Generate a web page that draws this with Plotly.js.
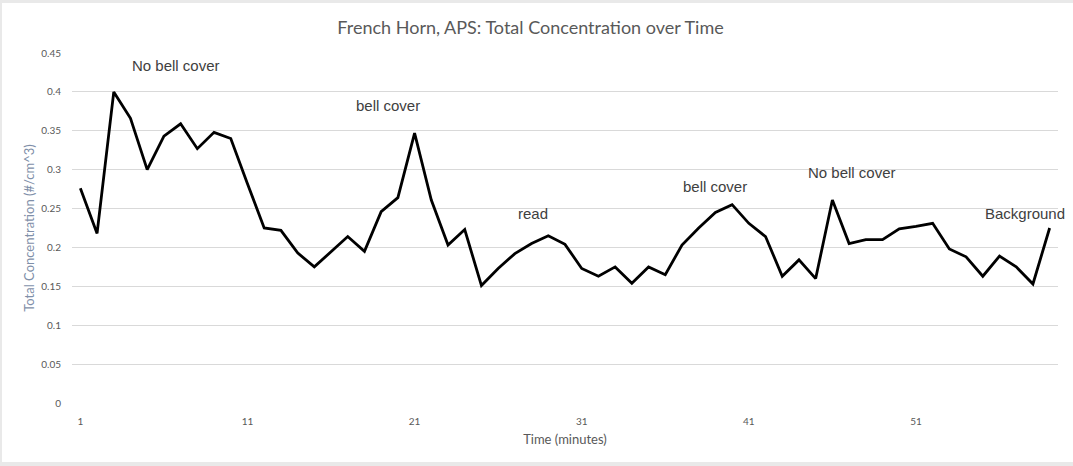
<!DOCTYPE html>
<html>
<head>
<meta charset="utf-8">
<script src="https://cdn.plot.ly/plotly-3.0.1.min.js"></script>
<style>
  html, body { margin: 0; padding: 0; background: #e9e9e9; width: 1073px; height: 466px; overflow: hidden; }
  #chart { position: absolute; left: 2px; top: 3px; width: 1071px; height: 459px; background: #ffffff; }
</style>
</head>
<body>
<div id="chart"></div>
<script>
// Time in minutes (categories 1..59)
const minutes = [1,2,3,4,5,6,7,8,9,10,11,12,13,14,15,16,17,18,19,20,
                 21,22,23,24,25,26,27,28,29,30,31,32,33,34,35,36,37,38,39,40,
                 41,42,43,44,45,46,47,48,49,50,51,52,53,54,55,56,57,58,59];
// Total concentration (#/cm^3)
const concentration = [0.276,0.218,0.400,0.366,0.300,0.343,0.359,0.327,0.348,0.340,
                       0.282,0.225,0.222,0.193,0.175,0.195,0.214,0.195,0.246,0.264,
                       0.347,0.261,0.203,0.223,0.151,0.173,0.192,0.205,0.215,0.204,
                       0.173,0.163,0.175,0.154,0.175,0.165,0.203,0.225,0.245,0.255,
                       0.231,0.214,0.163,0.184,0.160,0.261,0.205,0.210,0.210,0.224,
                       0.227,0.231,0.198,0.188,0.163,0.189,0.175,0.153,0.225];
const xTickVals = [1, 11, 21, 31, 41, 51];
const xTickText = ["1", "11", "21", "31", "41", "51"];
const yTickVals = [0, 0.05, 0.1, 0.15, 0.2, 0.25, 0.3, 0.35, 0.4, 0.45];
const yTickText = ["0", "0.05", "0.1", "0.15", "0.2", "0.25", "0.3", "0.35", "0.4", "0.45"];
const noteTexts = ["No bell cover", "bell cover", "read", "bell cover", "No bell cover", "Background"];

const tickFont = { family: "Lato, 'Open Sans', sans-serif", size: 10, color: "#595959" };
const noteFont = { family: "'Liberation Sans', Arial, sans-serif", size: 15, color: "#404040" };

const notePos = [
  { x: 6.74, y: 0.434 },
  { x: 19.42, y: 0.382 },
  { x: 28.1, y: 0.244 },
  { x: 38.95, y: 0.278 },
  { x: 47.2, y: 0.297 },
  { x: 57.5, y: 0.244 }
];

const trace = {
  x: minutes,
  y: concentration,
  type: "scatter",
  mode: "lines",
  line: { color: "#000000", width: 2.8 },
  hoverinfo: "x+y"
};

const layout = {
  width: 1071,
  height: 459,
  paper_bgcolor: "#ffffff",
  plot_bgcolor: "#ffffff",
  margin: { l: 70, r: 15, t: 50, b: 59 },
  showlegend: false,
  title: {
    text: "French Horn, APS: Total Concentration over Time",
    font: { family: "Lato, 'Open Sans', sans-serif", size: 18, color: "#595959" },
    x: 0.4935, xref: "container", xanchor: "center",
    y: 0.946, yref: "container", yanchor: "middle"
  },
  xaxis: {
    range: [0.5, 59.5],
    tickmode: "array",
    tickvals: xTickVals,
    ticktext: xTickText,
    showgrid: false,
    zeroline: false,
    showline: false,
    ticks: "outside",
    ticklen: 9,
    tickcolor: "rgba(0,0,0,0)",
    tickfont: tickFont,
    title: { text: "Time (minutes)", font: { family: "Lato, 'Open Sans', sans-serif", size: 13, color: "#595959" }, standoff: 8 },
    fixedrange: true
  },
  yaxis: {
    range: [0, 0.45],
    tickmode: "array",
    tickvals: yTickVals,
    ticktext: yTickText,
    showgrid: true,
    gridcolor: "#d9d9d9",
    gridwidth: 1,
    zeroline: false,
    showline: false,
    ticks: "outside",
    ticklen: 8,
    tickcolor: "rgba(0,0,0,0)",
    tickfont: tickFont,
    title: { text: "Total Concentration (#/cm^3)", font: { family: "Lato, 'Open Sans', sans-serif", size: 13, color: "#7f8fa9" }, standoff: 3 },
    fixedrange: true
  },
  annotations: noteTexts.map((t, i) => ({
    text: t,
    x: notePos[i].x,
    y: notePos[i].y,
    xref: "x",
    yref: "y",
    showarrow: false,
    xanchor: "center",
    yanchor: "middle",
    font: noteFont
  }))
};

Plotly.newPlot("chart", [trace], layout, { displayModeBar: false, staticPlot: false });
</script>
</body>
</html>
